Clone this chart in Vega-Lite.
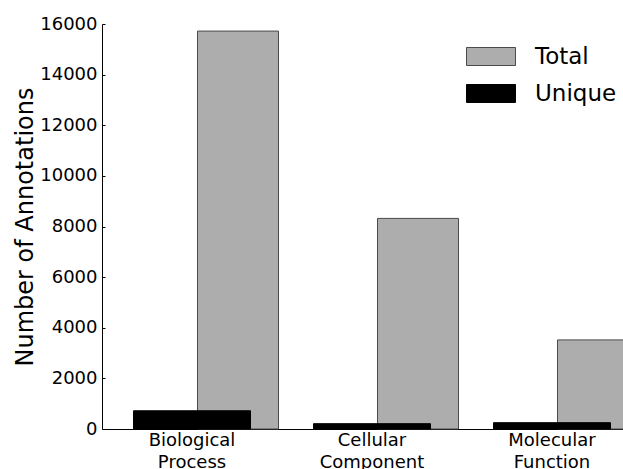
{
  "$schema": "https://vega.github.io/schema/vega-lite/v6.json",
  "width": 521,
  "height": 405,
  "autosize": {"type": "none"},
  "padding": {"left": 102, "top": 24, "right": 0, "bottom": 40},
  "background": "white",
  "config": {"view": {"stroke": null}, "font": "DejaVu Sans"},
  "data": {
    "values": [
      {"category": "Biological Process", "type": "Total", "value": 15720},
      {"category": "Biological Process", "type": "Unique", "value": 720},
      {"category": "Cellular Component", "type": "Total", "value": 8320},
      {"category": "Cellular Component", "type": "Unique", "value": 210},
      {"category": "Molecular Function", "type": "Total", "value": 3520},
      {"category": "Molecular Function", "type": "Unique", "value": 250}
    ]
  },
  "encoding": {
    "x": {
      "field": "category",
      "type": "nominal",
      "sort": ["Biological Process", "Cellular Component", "Molecular Function"],
      "scale": {"range": [0, 540], "paddingInner": 0, "paddingOuter": 0},
      "axis": {
        "title": null,
        "labelAngle": 0,
        "labelExpr": "split(datum.label, ' ')",
        "labelFont": "DejaVu Sans",
        "labelFontSize": 18,
        "labelLineHeight": 22,
        "labelColor": "black",
        "labelPadding": 2,
        "labelBaseline": "top",
        "ticks": false,
        "domainColor": "black",
        "domainWidth": 1
      }
    },
    "y": {
      "field": "value",
      "type": "quantitative",
      "scale": {"domain": [0, 16000], "nice": false},
      "axis": {
        "title": "Number of Annotations",
        "titleFont": "DejaVu Sans",
        "titleFontSize": 24,
        "titleFontWeight": "normal",
        "titleColor": "black",
        "titlePadding": 2,
        "values": [0, 2000, 4000, 6000, 8000, 10000, 12000, 14000, 16000],
        "format": "d",
        "grid": false,
        "labelFont": "DejaVu Sans",
        "labelFontSize": 18,
        "labelColor": "black",
        "tickSize": -3,
        "tickColor": "black",
        "labelPadding": 8,
        "domainColor": "black",
        "domainWidth": 1
      }
    }
  },
  "layer": [
    {
      "transform": [{"filter": "datum.type === 'Total'"}],
      "mark": {"type": "bar", "width": {"band": 0.45}, "xOffset": 46, "strokeWidth": 1},
      "encoding": {
        "fill": {
          "field": "type",
          "type": "nominal",
          "scale": {"domain": ["Total", "Unique"], "range": ["#adadad", "#000000"]},
          "legend": {
            "title": null,
            "orient": "none",
            "legendX": 364,
            "legendY": 7.5,
            "padding": 0,
            "symbolType": "M-1,-0.367H1V0.367H-1Z",
            "symbolSize": 2401,
            "symbolStrokeWidth": 1,
            "labelFont": "DejaVu Sans",
            "labelFontSize": 23,
            "labelColor": "black",
            "labelOffset": 19,
            "rowPadding": -14.5
          }
        },
        "stroke": {
          "field": "type",
          "type": "nominal",
          "scale": {"domain": ["Total", "Unique"], "range": ["#4a4a4a", "#000000"]},
          "legend": {
            "title": null,
            "orient": "none",
            "legendX": 364,
            "legendY": 7.5,
            "padding": 0,
            "symbolType": "M-1,-0.367H1V0.367H-1Z",
            "symbolSize": 2401,
            "symbolStrokeWidth": 1,
            "labelFont": "DejaVu Sans",
            "labelFontSize": 23,
            "labelColor": "black",
            "labelOffset": 19,
            "rowPadding": -14.5
          }
        }
      }
    },
    {
      "transform": [{"filter": "datum.type === 'Unique'"}],
      "mark": {"type": "bar", "width": {"band": 0.65}, "strokeWidth": 1},
      "encoding": {
        "fill": {"field": "type", "type": "nominal"},
        "stroke": {"field": "type", "type": "nominal"}
      }
    }
  ]
}
